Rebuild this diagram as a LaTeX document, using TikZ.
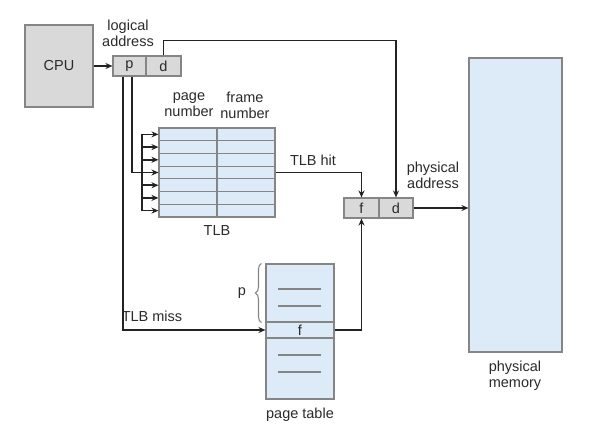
\documentclass[tikz,border=0pt]{standalone}
\usepackage{fontspec}
\setmainfont{Liberation Sans}
\usetikzlibrary{arrows.meta,decorations.pathreplacing}
\definecolor{boxgray}{HTML}{D9D9D9}
\definecolor{edgegray}{HTML}{858585}
\definecolor{cellblue}{HTML}{DDEAF8}
\definecolor{ink}{HTML}{222222}
\definecolor{txt}{HTML}{2A2A2A}
\tikzset{
  graybox/.style={draw=edgegray, fill=boxgray, line width=1.1pt, inner sep=0pt, text=txt, font=\fontsize{14.5}{16}\selectfont},
  bluecell/.style={draw=edgegray, fill=cellblue, line width=1.1pt, inner sep=0pt},
  lbl/.style={text=txt, font=\fontsize{14.5}{16}\selectfont, align=center, inner sep=0pt},
  conn/.style={draw=ink, line width=1.6pt},
  arr/.style={conn, -{Stealth[length=7pt,width=6pt]}},
  dashln/.style={draw=edgegray, line width=1.1pt}
}
\begin{document}
\begin{tikzpicture}[x=1pt,y=-1pt]
\useasboundingbox (0,0) rectangle (590,440);
% CPU
\node[graybox, minimum width=68pt, minimum height=82pt] (cpu) at (59,66) {CPU};
% logical address
\node[graybox, minimum width=33pt, minimum height=20pt] (p) at (129.5,66) {p};
\node[graybox, minimum width=35pt, minimum height=20pt] (d) at (163.5,66) {d};
\node[lbl] (la) at (128,33) {logical\\address};
% TLB rows
\foreach \i in {1,...,7}{
  \node[bluecell, minimum width=116pt, minimum height=12.714pt] (r\i) at (217,{128+12.714*\i-6.357}) {};
}
\draw[dashln] (r1.north) -- (r7.south);
\node[lbl] (pn) at (189,105) {page\\number};
\node[lbl] (fn) at (245,105) {frame\\number};
\node[lbl] (tlbl) at (217,231) {TLB};
% bus
\coordinate (bt) at (142,0);
\draw[conn] (bt |- r1.west) -- (bt |- r7.west);
\foreach \i in {1,...,7}{
  \draw[arr] (bt |- r\i.west) -- (r\i.west);
}
% page table
\node[bluecell, minimum width=68pt, minimum height=58pt] (pt1) at (300,293) {};
\node[bluecell, minimum width=68pt, minimum height=16pt, text=txt, font=\fontsize{14.5}{16}\selectfont] (pf) at (300,330) {f};
\node[bluecell, minimum width=68pt, minimum height=61pt] (pt2) at (300,368.5) {};
\draw[dashln] ([xshift=-22pt]pt1.center |- 0,289) -- ([xshift=21pt]pt1.center |- 0,289);
\draw[dashln] ([xshift=-22pt]pt1.center |- 0,306) -- ([xshift=21pt]pt1.center |- 0,306);
\draw[dashln] ([xshift=-22pt]pt2.center |- 0,355) -- ([xshift=21pt]pt2.center |- 0,355);
\draw[dashln] ([xshift=-22pt]pt2.center |- 0,372) -- ([xshift=21pt]pt2.center |- 0,372);
\draw[dashln, decorate, decoration={brace, amplitude=6pt}] ([xshift=-4pt]pt1.south west) -- ([xshift=-4pt]pt1.north west);
\node[lbl] (plbl) at (242,293) {p};
\node[lbl] (ptl) at (300,415) {page table};
% physical address
\node[graybox, minimum width=35pt, minimum height=20pt] (pf2) at (361.5,208) {f};
\node[graybox, minimum width=34pt, minimum height=20pt] (pd) at (396,208) {d};
\node[lbl] (pa) at (433,175) {physical\\address};
% memory
\node[bluecell, minimum width=93pt, minimum height=294pt] (mem) at (515.5,205) {};
\node[lbl] (ml) at (515,376) {physical\\memory};
% connectors
\draw[arr] (cpu.east |- p.west) -- (p.west);
\draw[arr] (d.north) -- ++(0,-15) -| (pd.north);
\draw[conn] ([xshift=2.5pt]p.south) |- (bt |- r4.west);
\draw[arr] ([xshift=-6.5pt]p.south) |- (pf.west);
\draw[arr] (r4.east) -| (pf2.north);
\draw[arr] (pf.east) -| (pf2.south);
\draw[arr] (pd.east) -- (pd.east -| mem.west);
\node[lbl] (hit) at (313,160) {TLB hit};
\node[lbl] (miss) at (152,316) {TLB miss};
\end{tikzpicture}
\end{document}
